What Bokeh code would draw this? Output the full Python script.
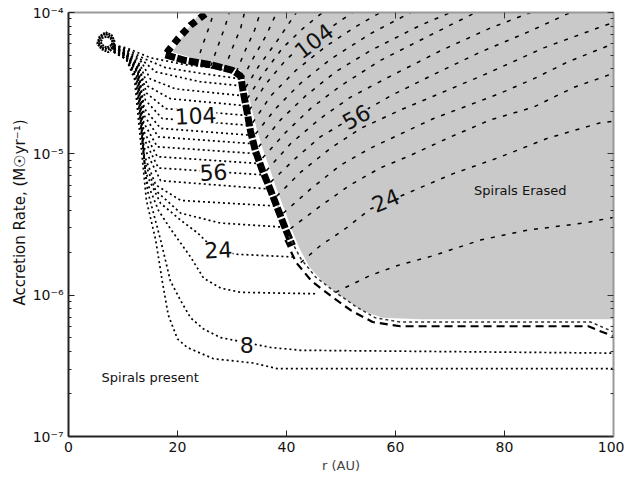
from bokeh.plotting import figure
from bokeh.models import (Range1d, FixedTicker, LinearAxis, LogAxis, Label, Title,
                          CustomJSTickFormatter)
from bokeh.embed import file_html
from bokeh.resources import INLINE
import numpy as np

# ---------------- data (r in AU, log10 of accretion rate in Msun/yr) ----------------
x_ticks = [0, 20, 40, 60, 80, 100]
y_ticks = [1e-7, 1e-6, 1e-5, 1e-4]
y_minor = [m * 10.0 ** e for e in (-7, -6, -5) for m in range(2, 10)]

# dotted contours (spirals present region), top level to bottom level
dotted_r = [
    [8.3, 10.6, 15.0, 21.5, 26.1, 30.8],
    [8.3, 10.6, 14.1, 17.8, 24.2, 31.6],
    [8.3, 10.6, 13.6, 16.0, 24.2, 31.9],
    [8.3, 10.6, 13.4, 15.0, 19.6, 32.3],
    [8.3, 10.6, 13.2, 14.5, 18.7, 32.7],
    [8.3, 10.6, 13.0, 14.3, 17.8, 33.2],
    [8.3, 10.6, 13.0, 14.1, 17.2, 33.6],
    [8.3, 10.6, 12.8, 13.9, 16.9, 34.1],
    [8.3, 10.6, 12.8, 13.9, 16.5, 34.5],
    [8.3, 10.6, 12.8, 13.8, 16.3, 35.0],
    [8.3, 10.6, 12.7, 13.8, 16.3, 35.6],
    [8.3, 10.6, 12.7, 13.8, 16.5, 36.3],
    [8.3, 10.6, 12.7, 13.8, 16.9, 37.2],
    [8.3, 10.6, 12.7, 13.9, 16.0, 20.6, 38.5],
    [8.3, 10.6, 12.5, 13.9, 16.0, 20.6, 27.9, 40.0],
    [8.3, 10.6, 12.5, 14.1, 16.9, 20.6, 23.7, 26.6, 30.6, 41.3],
    [8.3, 10.6, 12.3, 14.3, 16.5, 18.7, 22.4, 24.8, 27.9, 31.6, 45.3],
    [8.3, 10.6, 12.3, 14.5, 16.9, 18.7, 20.6, 22.4, 24.8, 27.9, 37.1, 42.6, 100],
    [8.3, 10.6, 12.1, 14.3, 16.0, 17.2, 18.3, 20.0, 21.8, 26.6, 33.9, 38.3, 100],
]
dotted_logmdot = [
    [-4.23, -4.25, -4.32, -4.37, -4.39, -4.42],
    [-4.23, -4.26, -4.33, -4.39, -4.43, -4.47],
    [-4.23, -4.27, -4.34, -4.42, -4.49, -4.52],
    [-4.24, -4.28, -4.35, -4.47, -4.54, -4.59],
    [-4.24, -4.28, -4.37, -4.52, -4.61, -4.66],
    [-4.25, -4.28, -4.38, -4.57, -4.68, -4.73],
    [-4.25, -4.29, -4.38, -4.62, -4.75, -4.80],
    [-4.25, -4.29, -4.39, -4.68, -4.82, -4.87],
    [-4.25, -4.30, -4.40, -4.73, -4.88, -4.93],
    [-4.25, -4.30, -4.40, -4.78, -4.95, -5.00],
    [-4.26, -4.30, -4.41, -4.84, -5.02, -5.07],
    [-4.26, -4.30, -4.42, -4.89, -5.10, -5.15],
    [-4.26, -4.31, -4.42, -4.95, -5.19, -5.25],
    [-4.27, -4.31, -4.43, -5.01, -5.22, -5.33, -5.37],
    [-4.27, -4.32, -4.44, -5.05, -5.26, -5.42, -5.49, -5.52],
    [-4.27, -4.32, -4.45, -5.13, -5.35, -5.47, -5.56, -5.67, -5.71, -5.73],
    [-4.28, -4.33, -4.45, -5.19, -5.40, -5.53, -5.73, -5.88, -5.95, -5.98, -5.99],
    [-4.28, -4.33, -4.46, -5.26, -5.61, -5.90, -6.04, -6.16, -6.24, -6.30, -6.37, -6.39, -6.41],
    [-4.28, -4.33, -4.47, -5.33, -5.61, -5.90, -6.14, -6.31, -6.37, -6.45, -6.48, -6.52, -6.52],
]

# small loops where the contours originate
hook_r = [
    [8.3, 7.3, 6.1, 5.3, 5.7, 6.8, 7.9, 8.4, 8.3],
    [8.1, 7.2, 6.1, 5.5, 5.9, 6.8, 7.7, 8.3, 8.1],
    [7.9, 7.0, 6.2, 5.9, 6.2, 7.0, 7.7, 8.1, 7.9],
]
hook_logmdot = [
    [-4.25, -4.28, -4.26, -4.22, -4.17, -4.14, -4.16, -4.20, -4.25],
    [-4.25, -4.26, -4.25, -4.21, -4.17, -4.15, -4.17, -4.21, -4.25],
    [-4.23, -4.25, -4.23, -4.21, -4.18, -4.17, -4.18, -4.21, -4.23],
]

# dashed contours (spirals erased region)
dashed_r = [
    [49.0, 55.4, 60.4, 67.0, 75.6, 84.2, 94.5, 100],
    [42.6, 46.2, 50.8, 55.4, 63.3, 70.6, 78.7, 87.9, 97.6, 100],
    [40.7, 46.2, 51.7, 57.2, 62.8, 70.1, 77.4, 85.3, 92.7, 100],
    [39.4, 44.4, 49.9, 55.4, 60.9, 67.0, 73.2, 79.3, 85.3, 91.6, 100],
    [38.2, 42.6, 48.1, 53.6, 60.9, 68.3, 76.9, 87.2, 97.1, 100],
    [37.1, 41.7, 46.2, 52.7, 59.1, 66.4, 75.6, 84.8, 92.1],
    [36.3, 40.7, 46.2, 51.7, 59.1, 68.3, 77.4, 84.8],
    [35.6, 39.8, 44.4, 49.9, 57.2, 66.4, 74.7],
    [34.9, 38.9, 43.5, 49.0, 55.4, 64.6, 70.1],
    [34.3, 38.0, 42.6, 48.1, 55.4, 62.8],
    [33.8, 37.1, 41.7, 47.2, 52.7, 57.2],
    [33.2, 36.1, 39.8, 42.6, 47.2, 52.1],
    [32.8, 35.6, 39.3, 43.1, 46.6],
    [32.5, 34.9, 38.3, 41.8],
    [31.9, 33.8, 36.3, 38.2],
    [30.8, 32.3, 34.1, 35.2],
    [28.6, 30.1, 31.6, 32.3],
    [26.1, 27.5, 28.8, 29.5],
    [23.5, 24.8, 26.1, 26.6],
]
dashed_logmdot = [
    [-5.98, -5.86, -5.79, -5.72, -5.61, -5.54, -5.49, -5.45],
    [-5.77, -5.65, -5.53, -5.39, -5.26, -5.14, -5.03, -4.89, -4.78, -4.77],
    [-5.53, -5.37, -5.22, -5.10, -5.01, -4.88, -4.76, -4.67, -4.53, -4.43],
    [-5.42, -5.25, -5.08, -4.96, -4.86, -4.75, -4.66, -4.57, -4.47, -4.35, -4.22],
    [-5.30, -5.13, -4.96, -4.82, -4.69, -4.57, -4.43, -4.25, -4.11, -4.07],
    [-5.20, -5.03, -4.88, -4.73, -4.59, -4.45, -4.28, -4.13, -4.00],
    [-5.12, -4.93, -4.75, -4.60, -4.45, -4.27, -4.11, -4.00],
    [-5.03, -4.85, -4.68, -4.52, -4.34, -4.16, -4.00],
    [-4.95, -4.76, -4.59, -4.42, -4.27, -4.09, -4.00],
    [-4.86, -4.68, -4.50, -4.33, -4.15, -4.00],
    [-4.78, -4.59, -4.41, -4.24, -4.10, -4.00],
    [-4.69, -4.51, -4.34, -4.24, -4.13, -4.00],
    [-4.61, -4.44, -4.25, -4.11, -4.00],
    [-4.53, -4.38, -4.20, -4.00],
    [-4.47, -4.33, -4.16, -4.00],
    [-4.42, -4.28, -4.13, -4.00],
    [-4.40, -4.25, -4.11, -4.00],
    [-4.38, -4.23, -4.09, -4.00],
    [-4.36, -4.21, -4.07, -4.00],
]

# shaded "spirals erased" region
erased_r = [24.2, 22.0, 20.2, 19.1, 24.2, 28.3, 31.6, 32.8, 33.6, 34.5, 35.6, 36.9,
            38.2, 39.6, 40.9, 42.4, 44.2, 47.0, 50.5, 53.9, 57.6, 64.6, 100, 100]
erased_logmdot = [-4.00, -4.11, -4.21, -4.28, -4.34, -4.38, -4.41, -4.54, -4.68, -4.82,
                  -4.96, -5.10, -5.25, -5.39, -5.53, -5.67, -5.80, -5.92, -6.02, -6.11,
                  -6.16, -6.17, -6.17, -4.00]

# boundary between the two regimes
bound_top_r = [25.1, 22.4, 20.2, 18.3, 17.8]
bound_top_logmdot = [-4.01, -4.09, -4.18, -4.27, -4.30]
bound_mid_r = [17.8, 21.5, 26.1, 30.1, 31.6, 32.1, 32.7, 33.4, 34.3, 35.6, 37.1, 38.5, 39.8, 41.1]
bound_mid_logmdot = [-4.30, -4.34, -4.37, -4.41, -4.45, -4.57, -4.69, -4.84, -4.98, -5.12,
                     -5.26, -5.40, -5.53, -5.65]
bound_low1_r = [40.4, 42.6, 45.3, 49.0, 52.7, 56.3, 60.9, 95.8, 97.6, 100]
bound_low1_logmdot = [-5.58, -5.74, -5.87, -5.98, -6.08, -6.16, -6.19, -6.19, -6.22, -6.26]
bound_low2_r = [39.8, 41.8, 44.6, 48.3, 51.9, 55.8, 60.9, 95.4, 97.2, 100]
bound_low2_logmdot = [-5.61, -5.77, -5.90, -6.01, -6.11, -6.19, -6.22, -6.22, -6.25, -6.29]


def mdot(rows):
    return [list(np.power(10.0, np.array(row))) for row in rows]


FONT = "DejaVu Sans"

p = figure(width=624, height=478, x_range=Range1d(0, 100), y_range=Range1d(1e-7, 1e-4),
           y_axis_type="log", output_backend="svg", toolbar_location=None,
           min_border_left=68, min_border_right=11, min_border_top=12, min_border_bottom=42,
           background_fill_color="white", border_fill_color="white")
p.outline_line_color = None
p.grid.visible = False

# shaded region
p.patch(erased_r, list(np.power(10.0, erased_logmdot)), fill_color="#c9c9c9", line_color=None)

# dashed contours
p.multi_line(dashed_r, mdot(dashed_logmdot), line_color="black", line_width=1.5, line_dash="4 7")

# boundary
p.line(bound_top_r, list(np.power(10.0, bound_top_logmdot)), line_color="black", line_width=7,
       line_dash="7 5")
p.line(bound_mid_r, list(np.power(10.0, bound_mid_logmdot)), line_color="black", line_width=7,
       line_dash="10 2")
p.line(bound_low1_r, list(np.power(10.0, bound_low1_logmdot)), line_color="#333333", line_width=1.5,
       line_dash="3 3")
p.line(bound_low2_r, list(np.power(10.0, bound_low2_logmdot)), line_color="black", line_width=2.2,
       line_dash="8 5")

# dotted contours
p.multi_line(dotted_r, mdot(dotted_logmdot), line_color="black", line_width=1.7, line_dash="2 3")
p.multi_line(hook_r, mdot(hook_logmdot), line_color="black", line_width=2.2, line_dash="2 1")

# contour labels
for txt, x, y, ang, bg in [("104", 23.3, 1.86e-5, 0.05, "white"),
                           ("56", 26.6, 7.4e-6, 0.05, "white"),
                           ("24", 27.5, 2.09e-6, 0.05, "white"),
                           ("8", 32.7, 4.47e-7, 0.0, "white"),
                           ("104", 45.0, 6.3e-5, 0.65, "#c9c9c9"),
                           ("56", 52.8, 1.82e-5, 0.5, "#c9c9c9"),
                           ("24", 58.2, 4.68e-6, 0.4, "#c9c9c9")]:
    p.add_layout(Label(x=x, y=y, text=txt, angle=ang, text_font=FONT, text_font_size="22px",
                       text_align="center", text_baseline="middle", text_color="#111111",
                       background_fill_color=bg))

p.add_layout(Label(x=82.9, y=5.5e-6, text="Spirals Erased", text_font=FONT, text_font_size="13px",
                   text_align="center", text_baseline="middle", text_color="#111111"))
p.add_layout(Label(x=15.0, y=2.6e-7, text="Spirals present", text_font=FONT, text_font_size="13px",
                   text_align="center", text_baseline="middle", text_color="#111111"))

# axes
fmt = CustomJSTickFormatter(code="""
const e = Math.round(Math.log10(tick));
const sup = {'-':'\u207b','0':'\u2070','1':'\u00b9','2':'\u00b2','3':'\u00b3','4':'\u2074',
             '5':'\u2075','6':'\u2076','7':'\u2077','8':'\u2078','9':'\u2079'};
return '10' + String(e).split('').map(c => sup[c]).join('');
""")

xa = p.xaxis[0]
xa.ticker = FixedTicker(ticks=x_ticks)
ya = p.yaxis[0]
ya.ticker = FixedTicker(ticks=y_ticks, minor_ticks=y_minor)
ya.formatter = fmt

for ax in (xa, ya):
    ax.axis_line_width = 2
    ax.axis_line_color = "#222222"
    ax.major_tick_in = 6
    ax.major_tick_out = 0
    ax.minor_tick_in = 3
    ax.minor_tick_out = 0
    ax.major_tick_line_color = "#222222"
    ax.minor_tick_line_color = "#222222"
    ax.major_label_text_font = FONT
    ax.major_label_text_font_size = "14px"
    ax.major_label_text_color = "#111111"
    ax.major_label_standoff = 5

xa.axis_label = "r (AU)"
xa.axis_label_text_font = FONT
xa.axis_label_text_font_size = "13px"
xa.axis_label_text_font_style = "normal"
xa.axis_label_standoff = 3

top = LinearAxis(ticker=FixedTicker(ticks=x_ticks), major_label_text_font_size="1px",
                 major_label_text_color=None,
                 major_label_standoff=0, major_tick_in=6, major_tick_out=0,
                 minor_tick_in=0, minor_tick_out=0, axis_line_width=2, axis_line_color="#999999",
                 major_tick_line_color="#333333")
p.add_layout(top, "above")
right = LogAxis(ticker=FixedTicker(ticks=y_ticks, minor_ticks=y_minor), major_label_text_font_size="1px",
                major_label_text_color=None,
                major_label_standoff=0, major_tick_in=6, major_tick_out=0,
                minor_tick_in=3, minor_tick_out=0, axis_line_width=2, axis_line_color="#999999",
                major_tick_line_color="#333333", minor_tick_line_color="#333333")
p.add_layout(right, "right")

p.add_layout(Title(text="Accretion Rate, (M\u2609yr\u207b\u00b9)", align="left", offset=131,
                   text_font=FONT, text_font_size="15px", text_font_style="normal",
                   text_color="#111111", standoff=2), "left")

open("out.html", "w").write(file_html(p, INLINE))
